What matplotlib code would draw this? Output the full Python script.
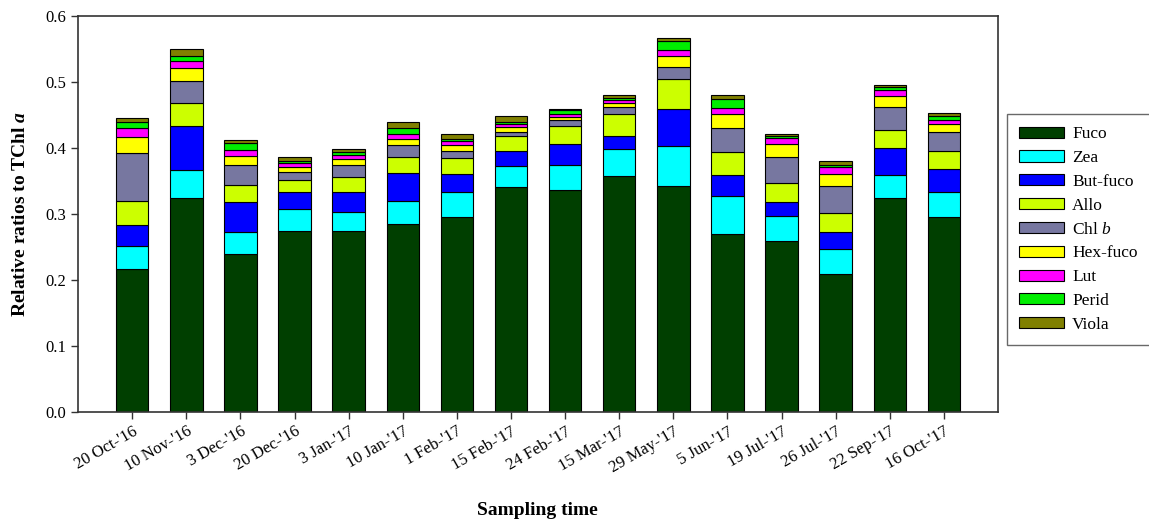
import numpy as np
import matplotlib
matplotlib.use("Agg")
import matplotlib.pyplot as plt

plt.rcParams['font.family'] = ['Liberation Serif', 'DejaVu Serif']
plt.rcParams['mathtext.fontset'] = 'custom'
plt.rcParams['mathtext.rm'] = 'Liberation Serif'
plt.rcParams['mathtext.it'] = 'Liberation Serif:italic'
plt.rcParams['mathtext.bf'] = 'Liberation Serif:bold'
try:
    plt.rcParams['mathtext.bfit'] = 'Liberation Serif:bold:italic'
    BFIT = True
except KeyError:
    BFIT = False

dates = ["20 Oct-'16", "10 Nov-'16", "3 Dec-'16", "20 Dec-'16", "3 Jan-'17",
         "10 Jan-'17", "1 Feb-'17", "15 Feb-'17", "24 Feb-'17", "15 Mar-'17",
         "29 May-'17", "5 Jun-'17", "19 Jul-'17", "26 Jul-'17", "22 Sep-'17",
         "16 Oct-'17"]

fuco     = [0.216, 0.325, 0.240, 0.274, 0.274, 0.285, 0.295, 0.341, 0.336, 0.357, 0.343, 0.270, 0.259, 0.209, 0.324, 0.295]
zea      = [0.036, 0.042, 0.033, 0.034, 0.029, 0.034, 0.038, 0.032, 0.038, 0.041, 0.060, 0.057, 0.038, 0.038, 0.035, 0.038]
but_fuco = [0.031, 0.066, 0.045, 0.026, 0.030, 0.043, 0.028, 0.022, 0.032, 0.021, 0.057, 0.032, 0.021, 0.025, 0.041, 0.035]
allo     = [0.036, 0.036, 0.026, 0.018, 0.023, 0.024, 0.024, 0.023, 0.027, 0.033, 0.045, 0.035, 0.029, 0.030, 0.028, 0.027]
chl_b    = [0.074, 0.033, 0.031, 0.012, 0.018, 0.019, 0.011, 0.007, 0.009, 0.011, 0.018, 0.036, 0.040, 0.040, 0.035, 0.029]
hex_fuco = [0.024, 0.020, 0.013, 0.008, 0.009, 0.009, 0.009, 0.007, 0.005, 0.005, 0.017, 0.021, 0.019, 0.019, 0.016, 0.012]
lut      = [0.014, 0.010, 0.009, 0.005, 0.006, 0.008, 0.006, 0.004, 0.005, 0.005, 0.008, 0.010, 0.010, 0.011, 0.009, 0.007]
perid    = [0.008, 0.007, 0.010, 0.004, 0.005, 0.009, 0.003, 0.004, 0.005, 0.003, 0.014, 0.014, 0.003, 0.003, 0.004, 0.006]
viola    = [0.006, 0.011, 0.006, 0.005, 0.005, 0.008, 0.007, 0.008, 0.003, 0.005, 0.005, 0.005, 0.002, 0.005, 0.003, 0.004]

series = [fuco, zea, but_fuco, allo, chl_b, hex_fuco, lut, perid, viola]
names = ["Fuco", "Zea", "But-fuco", "Allo", r"Chl $\it{b}$", "Hex-fuco", "Lut", "Perid", "Viola"]
colors = ["#003F00", "#00FFFF", "#0000FF", "#CCFF00", "#7777A0", "#FFFF00", "#FF00FF", "#00EE00", "#808000"]

fig = plt.figure(figsize=(11.49, 5.22), dpi=100)
ax = fig.add_axes([0.068, 0.211, 0.8006, 0.758])

x = np.arange(len(dates))
bottom = np.zeros(len(dates))
handles = []
for vals, name, c in zip(series, names, colors):
    v = np.array(vals)
    h = ax.bar(x, v, width=0.6, bottom=bottom, color=c, edgecolor='black',
               linewidth=0.8, label=name)
    handles.append(h)
    bottom += v

ax.set_xlim(-1, len(dates))
ax.set_ylim(0, 0.6)
ax.set_yticks(np.arange(0, 0.61, 0.1))
ax.set_yticklabels([f"{t:.1f}" for t in np.arange(0, 0.61, 0.1)], fontsize=12)
ax.set_xticks(x)
ax.set_xticklabels(dates, rotation=30, ha='right', rotation_mode='anchor', fontsize=12)
ax.tick_params(direction='out', length=5, width=1, color='#333333')
for s in ax.spines.values():
    s.set_linewidth(1.2)
    s.set_color('#333333')

if BFIT:
    ylab = r"Relative ratios to TChl $\mathbfit{a}$"
else:
    ylab = r"Relative ratios to TChl $\it{a}$"
ax.set_ylabel(ylab, fontsize=14, fontweight='bold', labelpad=12)
fig.text(0.468, 0.005, "Sampling time", fontsize=14, fontweight='bold', ha='center', va='bottom')

leg = fig.legend(handles=handles, loc='upper left', bbox_to_anchor=(0.876, 0.782),
                 fontsize=12.5, frameon=True, fancybox=False, edgecolor='#444444',
                 handlelength=2.6, handleheight=0.6, labelspacing=0.45,
                 borderpad=0.72, handletextpad=0.45, borderaxespad=0)
leg.get_frame().set_linewidth(1.0)

fig.savefig("out.png", dpi=100)
